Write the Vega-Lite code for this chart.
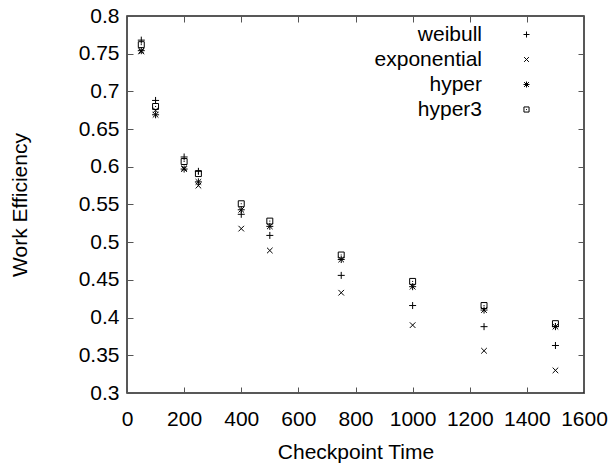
{
  "$schema": "https://vega.github.io/schema/vega-lite/v6.json",
  "autosize": {"type": "none"},
  "padding": {"left": 127, "top": 16, "right": 29, "bottom": 72},
  "width": 457,
  "height": 377,
  "background": "white",
  "config": {
    "view": {"stroke": "#222", "strokeWidth": 1.5},
    "font": "Liberation Sans",
    "axis": {
      "labelFont": "Liberation Sans",
      "titleFont": "Liberation Sans",
      "labelFontSize": 21,
      "titleFontSize": 21,
      "titleFontWeight": "normal",
      "labelColor": "#000",
      "titleColor": "#000",
      "grid": false,
      "domain": false,
      "tickColor": "#555",
      "tickWidth": 1,
      "tickSize": -6,
      "labelOverlap": false,
      "labelFlush": false
    },
    "legend": {
      "labelFont": "Liberation Sans",
      "labelFontSize": 21,
      "labelColor": "#000"
    }
  },
  "data": {
    "values": [
      {"t": 50, "series": "weibull", "eff": 0.768},
      {"t": 100, "series": "weibull", "eff": 0.688},
      {"t": 200, "series": "weibull", "eff": 0.613},
      {"t": 250, "series": "weibull", "eff": 0.594},
      {"t": 400, "series": "weibull", "eff": 0.537},
      {"t": 500, "series": "weibull", "eff": 0.509},
      {"t": 750, "series": "weibull", "eff": 0.456},
      {"t": 1000, "series": "weibull", "eff": 0.416},
      {"t": 1250, "series": "weibull", "eff": 0.388},
      {"t": 1500, "series": "weibull", "eff": 0.363},
      {"t": 50, "series": "exponential", "eff": 0.753},
      {"t": 100, "series": "exponential", "eff": 0.675},
      {"t": 200, "series": "exponential", "eff": 0.598},
      {"t": 250, "series": "exponential", "eff": 0.575},
      {"t": 400, "series": "exponential", "eff": 0.518},
      {"t": 500, "series": "exponential", "eff": 0.489},
      {"t": 750, "series": "exponential", "eff": 0.433},
      {"t": 1000, "series": "exponential", "eff": 0.390},
      {"t": 1250, "series": "exponential", "eff": 0.356},
      {"t": 1500, "series": "exponential", "eff": 0.330},
      {"t": 50, "series": "hyper", "eff": 0.754},
      {"t": 100, "series": "hyper", "eff": 0.669},
      {"t": 200, "series": "hyper", "eff": 0.597},
      {"t": 250, "series": "hyper", "eff": 0.580},
      {"t": 400, "series": "hyper", "eff": 0.543},
      {"t": 500, "series": "hyper", "eff": 0.521},
      {"t": 750, "series": "hyper", "eff": 0.477},
      {"t": 1000, "series": "hyper", "eff": 0.441},
      {"t": 1250, "series": "hyper", "eff": 0.410},
      {"t": 1500, "series": "hyper", "eff": 0.388},
      {"t": 50, "series": "hyper3", "eff": 0.762},
      {"t": 100, "series": "hyper3", "eff": 0.680},
      {"t": 200, "series": "hyper3", "eff": 0.607},
      {"t": 250, "series": "hyper3", "eff": 0.591},
      {"t": 400, "series": "hyper3", "eff": 0.551},
      {"t": 500, "series": "hyper3", "eff": 0.528},
      {"t": 750, "series": "hyper3", "eff": 0.483},
      {"t": 1000, "series": "hyper3", "eff": 0.448},
      {"t": 1250, "series": "hyper3", "eff": 0.416},
      {"t": 1500, "series": "hyper3", "eff": 0.392}
    ]
  },
  "layer": [
    {
      "mark": {"type": "point", "filled": false, "stroke": "#000", "strokeWidth": 1, "size": 49, "opacity": 1},
      "encoding": {
        "x": {
          "field": "t", "type": "quantitative",
          "scale": {"domain": [0, 1600], "nice": false, "zero": false},
          "axis": {"orient": "bottom", "title": "Checkpoint Time", "values": [0,200,400,600,800,1000,1200,1400,1600], "format": "d", "labelPadding": 21, "titlePadding": 12, "labelBaseline": "top"}
        },
        "y": {
          "field": "eff", "type": "quantitative",
          "scale": {"domain": [0.3, 0.8], "nice": false, "zero": false},
          "axis": {"orient": "left", "title": "Work Efficiency", "values": [0.3,0.35,0.4,0.45,0.5,0.55,0.6,0.65,0.7,0.75,0.8], "format": ".2~f", "labelPadding": 14, "titlePadding": 48}
        },
        "shape": {
          "field": "series", "type": "nominal",
          "sort": ["weibull", "exponential", "hyper", "hyper3"],
          "scale": {
            "domain": ["weibull", "exponential", "hyper", "hyper3"],
            "range": [
              "M-1,0L1,0M0,-1L0,1",
              "M-0.8,-0.8L0.8,0.8M-0.8,0.8L0.8,-0.8",
              "M-1,0L1,0M0,-1L0,1M-0.8,-0.8L0.8,0.8M-0.8,0.8L0.8,-0.8",
              "M-0.85,-0.85L0.85,-0.85L0.85,0.85L-0.85,0.85ZM-0.15,0L0.15,0"
            ]
          },
          "legend": {
            "title": null,
            "orient": "none",
            "legendX": 389,
            "legendY": 8,
            "padding": 0,
            "symbolSize": 36,
            "symbolStrokeWidth": 1,
            "symbolStrokeColor": "#000",
            "symbolFillColor": "transparent",
            "labelAlign": "right",
            "labelOffset": -55,
            "rowPadding": 3
          }
        }
      }
    },
    {
      "mark": {"type": "point", "opacity": 0},
      "encoding": {
        "x": {
          "field": "t", "type": "quantitative",
          "scale": {"domain": [0, 1600], "nice": false, "zero": false},
          "axis": {"orient": "top", "title": null, "labels": false, "values": [0,200,400,600,800,1000,1200,1400,1600]}
        },
        "y": {
          "field": "eff", "type": "quantitative",
          "scale": {"domain": [0.3, 0.8], "nice": false, "zero": false},
          "axis": {"orient": "right", "title": null, "labels": false, "values": [0.3,0.35,0.4,0.45,0.5,0.55,0.6,0.65,0.7,0.75,0.8]}
        }
      }
    }
  ],
  "resolve": {"axis": {"x": "independent", "y": "independent"}}
}
